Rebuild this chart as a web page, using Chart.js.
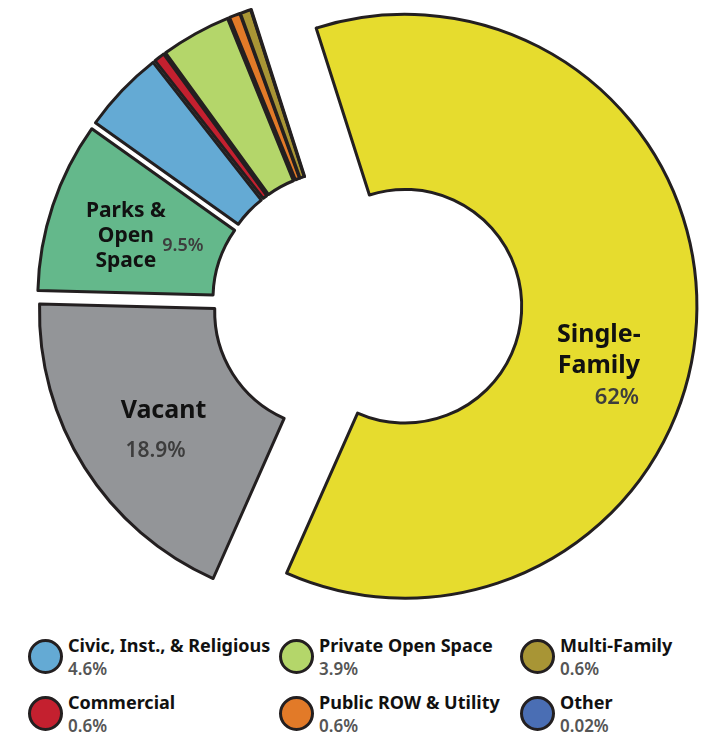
<!DOCTYPE html>
<html>
<head>
<meta charset="utf-8">
<script src="https://cdn.jsdelivr.net/npm/chart.js@4/dist/chart.umd.min.js"></script>
<style>
  html, body { margin: 0; padding: 0; background: #fff; }
  body { width: 716px; height: 735px; position: relative; overflow: hidden; font-family: "Noto Sans", sans-serif; }
  #land-use { position: absolute; left: -40px; top: 0; }
  .lg-dot { position: absolute; width: 29px; height: 29px; border: 3px solid #231f20; border-radius: 50%; }
  .lg-title { position: absolute; font-size: 18px; font-weight: 700; color: #111; line-height: 20px; white-space: nowrap; }
  .lg-pct { position: absolute; font-size: 17px; font-weight: 600; color: #555; line-height: 20px; white-space: nowrap; }
</style>
</head>
<body>
<canvas id="land-use" width="800" height="610"></canvas>
<div id="legend"></div>
<script>
/* land use doughnut */

const categories = ['Single-Family', 'Vacant', 'Parks & Open Space', 'Civic, Inst., & Religious', 'Commercial',
  'Private Open Space', 'Public ROW & Utility', 'Multi-Family', 'Other'];
const shares = [62, 18.9, 9.5, 4.6, 0.6, 3.9, 0.6, 0.6, 0.02];
const shareLabels = ['62%', '18.9%', '9.5%', '4.6%', '0.6%', '3.9%', '0.6%', '0.6%', '0.02%'];

const colors = ['#e6dc2e', '#939598', '#64b88b', '#64aad4', '#c4202f', '#b4d66a', '#e27a28', '#a89535', '#4a6eb4'];
const explode = [60, 16, 16, 16, 16, 16, 16, 16, 16];

// labels drawn inside the big slices, relative to the slice's own centre
const sliceText = {
  0: { lines: ['Single-', 'Family'], size: 25, dx: 194, dy: [36, 67], pct: { size: 22, dx: 212, dy: 98 } },
  1: { lines: ['Vacant'], size: 25, dx: -168, dy: [106], pct: { size: 21, dx: -176, dy: 145 } },
  2: { lines: ['Parks &', 'Open', 'Space'], size: 21, dx: -204, dy: [-81, -56, -31], pct: { size: 18, dx: -147, dy: -47 } }
};

const legendOrder = [3, 5, 7, 4, 6, 8];
const legendCols = [28, 279, 520];
const legendRows = [639, 696];

function sliceCentre(arc, i) {
  const mid = (arc.startAngle + arc.endAngle) / 2;
  return { x: arc.x + Math.cos(mid) * explode[i], y: arc.y + Math.sin(mid) * explode[i] };
}

const explodePlugin = {
  id: 'explode',
  beforeDatasetDraw(chart, args) {
    const ctx = chart.ctx;
    args.meta.data.forEach((arc, i) => {
      const mid = (arc.startAngle + arc.endAngle) / 2;
      ctx.save();
      ctx.translate(Math.cos(mid) * explode[i], Math.sin(mid) * explode[i]);
      arc.draw(ctx);
      ctx.restore();
    });
    return false;
  }
};

const labelPlugin = {
  id: 'sliceLabels',
  afterDatasetsDraw(chart) {
    const ctx = chart.ctx;
    const arcs = chart.getDatasetMeta(0).data;
    ctx.save();
    ctx.textAlign = 'center';
    ctx.textBaseline = 'alphabetic';
    Object.keys(sliceText).forEach(k => {
      const t = sliceText[k];
      const c = sliceCentre(arcs[k], k);
      ctx.fillStyle = '#111';
      ctx.font = `700 ${t.size}px "Noto Sans"`;
      t.lines.forEach((line, j) => ctx.fillText(line, c.x + t.dx, c.y + t.dy[j]));
      ctx.fillStyle = '#3d3d3d';
      ctx.font = `600 ${t.pct.size}px "Noto Sans"`;
      ctx.fillText(shareLabels[k], c.x + t.pct.dx, c.y + t.pct.dy);
    });
    ctx.restore();
  }
};

new Chart(document.getElementById('land-use').getContext('2d'), {
  type: 'doughnut',
  data: {
    labels: categories,
    datasets: [{
      data: shares,
      backgroundColor: colors,
      borderColor: '#231f20',
      borderWidth: 3,
      borderJoinStyle: 'round',
      hoverOffset: 0
    }]
  },
  options: {
    responsive: false,
    animation: false,
    rotation: -17.7,
    radius: 292,
    cutout: '40%',
    layout: { padding: { left: 0, right: 30, top: 0, bottom: 4 } },
    plugins: {
      legend: { display: false },
      tooltip: { enabled: false }
    }
  },
  plugins: [explodePlugin, labelPlugin]
});

function renderLegend() {
  document.getElementById('legend').innerHTML = legendOrder.map((idx, n) => {
    const x = legendCols[n % 3];
    const y = legendRows[Math.floor(n / 3)];
    return `
      <div class="lg-dot" style="left:${x}px;top:${y}px;background:${colors[idx]}"></div>
      <div class="lg-title" style="left:${x + 40}px;top:${y - 4}px">${categories[idx].replace('&', '&amp;')}</div>
      <div class="lg-pct" style="left:${x + 40}px;top:${y + 20}px">${shareLabels[idx]}</div>`;
  }).join('');
}

renderLegend();
</script>
</body>
</html>
